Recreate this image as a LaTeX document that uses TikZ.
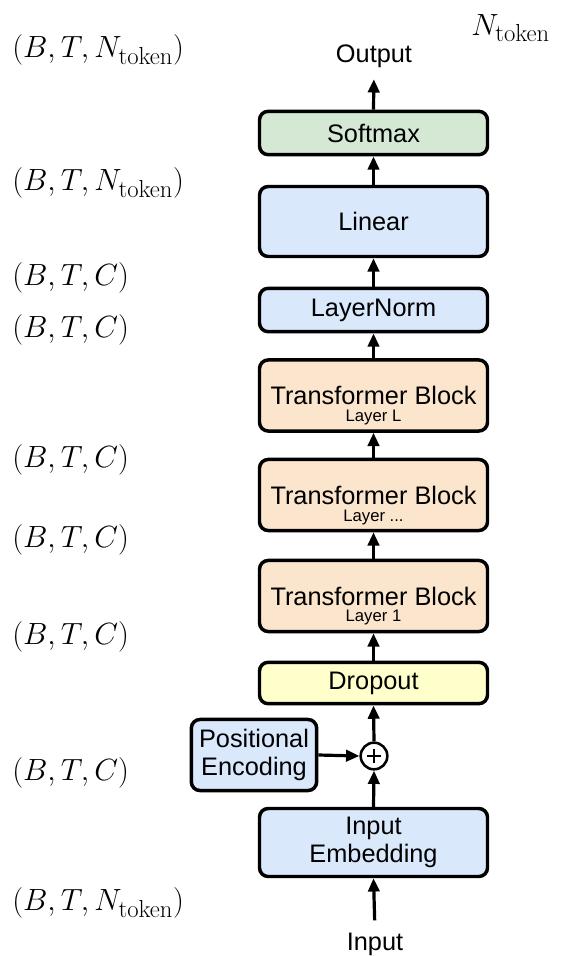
\RequirePackage{fix-cm}
\documentclass[tikz,border=0pt]{standalone}
\usepackage{fontspec}
\newfontfamily\boxfont{Liberation Sans}
\usetikzlibrary{arrows.meta,calc}
% token count with a roomy upright subscript
\newcommand\ntok{N_{\mbox{\fontsize{18.5}{20}\selectfont token}}}

\definecolor{greenfill}{HTML}{D5E8D4}
\definecolor{bluefill}{HTML}{DAE8FC}
\definecolor{peachfill}{HTML}{FCE5CD}
\definecolor{yellowfill}{HTML}{FFFFCC}

\begin{document}
\begin{tikzpicture}[x=0.75pt,y=-0.75pt,
  blk/.style={draw=black, line width=2.6pt, rounded corners=6.5pt,
    minimum width=171pt, minimum height=#1, inner sep=0pt, align=center,
    font=\boxfont\fontsize{19}{21}\selectfont},
  sub/.style={anchor=base, inner sep=0pt, font=\boxfont\fontsize{12.5}{14}\selectfont},
  io/.style={anchor=base, inner sep=0pt, font=\boxfont\fontsize{19}{21}\selectfont},
  dims/.style={anchor=west, inner sep=0pt, font=\fontsize{23}{27}\selectfont},
  arr/.style={line width=2.4pt, -{Triangle[length=10pt,width=8.5pt]}},
]
\useasboundingbox (0,0) rectangle (563,956);

% main stack
\node[blk=32.5pt, fill=greenfill]  (soft) at (373.5,133)   {Softmax};
\node[blk=52.5pt, fill=bluefill]   (lin)  at (373.5,221.5) {Linear};
\node[blk=32.5pt, fill=bluefill]   (ln)   at (373.5,310)   {LayerNorm};
\node[blk=53.3pt, fill=peachfill]  (tbL)  at (373.5,395.5) {Transformer Block};
\node[blk=53.3pt, fill=peachfill]  (tbM)  at (373.5,495)   {Transformer Block};
\node[blk=53.3pt, fill=peachfill]  (tbA)  at (373.5,596)   {Transformer Block};
\node[blk=31pt,   fill=yellowfill] (drop) at (373.5,683)   {Dropout};
\node[blk=51pt,   fill=bluefill] (emb) at (373.5,842.5) {Input\\Embedding};
\node[blk=53.3pt, fill=bluefill, minimum width=94pt]
      (pos) at (254,755) {Positional\\Encoding};

% layer captions inside the transformer blocks
\node[sub] (capL) at (373.5,421.5) {Layer L};
\node[sub] (capM) at (373.5,521.5) {Layer ...};
\node[sub] (capA) at (373.5,621.5) {Layer 1};

% sum node
\node[circle, draw=black, fill=white, line width=1.9pt, minimum size=20pt, inner sep=0pt]
      (plus) at (374,756) {};
\draw[line width=1.6pt] ($(plus.center)+(-7,0)$) -- ($(plus.center)+(7,0)$)
                        ($(plus.center)+(0,-7)$) -- ($(plus.center)+(0,7)$);

% input / output
\node[io] (out) at (374,63)  {Output};
\node[io] (in)  at (375,950) {Input};

% connectors
\draw[arr, shorten <=9pt] (in.north) -- (emb.south);
\draw[arr] (emb.north) -- (plus.south);
\draw[arr] (pos.east) -- (plus.west);
\draw[arr] (plus.north) -- (drop.south);
\draw[arr] (drop.north) -- (tbA.south);
\draw[arr] (tbA.north) -- (tbM.south);
\draw[arr] (tbM.north) -- (tbL.south);
\draw[arr] (tbL.north) -- (ln.south);
\draw[arr] (ln.north) -- (lin.south);
\draw[arr] (lin.north) -- (soft.south);
\draw[arr, shorten >=8pt] (soft.north) -- (out.south);

% tensor shapes
\node[dims] (s1) at (12,50)  {$(B,T,\ntok)$};
\node[dims] (s2) at (12,183) {$(B,T,\ntok)$};
\node[dims] (s3) at (12,278) {$(B,T,C)$};
\node[dims] (s4) at (12,330) {$(B,T,C)$};
\node[dims] (s5) at (12,460) {$(B,T,C)$};
\node[dims] (s6) at (12,540) {$(B,T,C)$};
\node[dims] (s7) at (12,637) {$(B,T,C)$};
\node[dims] (s8) at (12,773) {$(B,T,C)$};
\node[dims] (s9) at (12,903) {$(B,T,\ntok)$};
\node[dims] (vocab) at (471,28) {$\ntok$};
\end{tikzpicture}
\end{document}
